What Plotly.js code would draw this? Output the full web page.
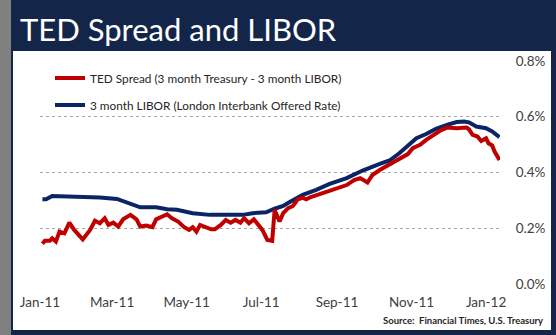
<!DOCTYPE html>
<html>
<head>
<meta charset="utf-8">
<script src="https://cdn.plot.ly/plotly-3.0.1.min.js"></script>
<style>
  html, body { margin: 0; padding: 0; }
  body { width: 556px; height: 335px; background: #13264a; position: relative; overflow: hidden; }
  #strip { position: absolute; left: 0; top: 0; width: 11px; height: 335px; background: #808080; }
  #panel { position: absolute; left: 13px; top: 51px; width: 538px; height: 279px; background: #ffffff; }
  #chart { position: absolute; left: 0; top: 0; width: 556px; height: 335px; }
</style>
</head>
<body>
<div id="strip"></div>
<div id="panel"></div>
<div id="chart"></div>
<script>
// ---- Data ----
const liborDates = ['2011-01-03','2011-01-06','2011-01-11','2011-02-02','2011-02-19','2011-03-05','2011-03-13','2011-03-24','2011-04-06','2011-04-15','2011-04-23','2011-05-06','2011-05-20','2011-06-03','2011-06-16','2011-06-24','2011-07-05','2011-07-12','2011-07-19','2011-07-24','2011-07-31','2011-08-04','2011-08-15','2011-08-26','2011-09-09','2011-09-22','2011-10-06','2011-10-14','2011-10-22','2011-10-28','2011-11-05','2011-11-13','2011-11-21','2011-11-30','2011-12-08','2011-12-14','2011-12-18','2011-12-24','2012-01-01','2012-01-06','2012-01-12'];
const liborValues = [0.304,0.304,0.316,0.313,0.310,0.305,0.293,0.275,0.275,0.268,0.266,0.254,0.248,0.247,0.248,0.254,0.257,0.270,0.280,0.293,0.310,0.320,0.338,0.359,0.380,0.407,0.431,0.443,0.469,0.493,0.523,0.538,0.557,0.571,0.581,0.583,0.580,0.565,0.559,0.547,0.527];

const tedDates = ['2011-01-03','2011-01-05','2011-01-09','2011-01-11','2011-01-14','2011-01-17','2011-01-21','2011-01-25','2011-01-29','2011-02-05','2011-02-11','2011-02-15','2011-02-19','2011-02-23','2011-02-26','2011-03-02','2011-03-06','2011-03-10','2011-03-16','2011-03-21','2011-03-24','2011-03-29','2011-04-03','2011-04-06','2011-04-11','2011-04-15','2011-04-19','2011-04-24','2011-04-29','2011-05-03','2011-05-06','2011-05-09','2011-05-12','2011-05-17','2011-05-21','2011-05-24','2011-05-29','2011-06-02','2011-06-06','2011-06-10','2011-06-14','2011-06-17','2011-06-21','2011-06-25','2011-06-29','2011-07-02','2011-07-06','2011-07-10','2011-07-12','2011-07-16','2011-07-19','2011-07-23','2011-07-27','2011-07-31','2011-08-04','2011-08-07','2011-08-10','2011-08-21','2011-09-02','2011-09-09','2011-09-15','2011-09-20','2011-09-26','2011-09-30','2011-10-06','2011-10-14','2011-10-22','2011-10-29','2011-11-02','2011-11-08','2011-11-13','2011-11-19','2011-11-24','2011-11-30','2011-12-08','2011-12-16','2011-12-18','2011-12-21','2011-12-25','2011-12-28','2012-01-01','2012-01-03','2012-01-06','2012-01-08','2012-01-12'];
const tedValues = [0.144,0.155,0.155,0.164,0.152,0.188,0.182,0.220,0.194,0.160,0.194,0.227,0.218,0.236,0.212,0.220,0.206,0.232,0.248,0.232,0.206,0.210,0.204,0.232,0.242,0.250,0.236,0.224,0.204,0.194,0.204,0.188,0.212,0.204,0.196,0.196,0.212,0.230,0.220,0.230,0.220,0.236,0.218,0.232,0.212,0.194,0.158,0.155,0.266,0.224,0.254,0.272,0.280,0.304,0.309,0.304,0.311,0.326,0.344,0.355,0.373,0.380,0.364,0.391,0.409,0.430,0.451,0.466,0.487,0.499,0.517,0.535,0.549,0.561,0.559,0.561,0.555,0.535,0.529,0.513,0.523,0.505,0.497,0.475,0.445];

const xTickVals = ['2011-01-01','2011-03-01','2011-05-01','2011-07-01','2011-09-01','2011-11-01','2012-01-01'];
const xTickText = ['Jan-11','Mar-11','May-11','Jul-11','Sep-11','Nov-11','Jan-12'];
const yTickVals = [0, 0.2, 0.4, 0.6, 0.8];
const yTickText = ['0.0%','0.2%','0.4%','0.6%','0.8%'];

const tedName = 'TED Spread (3 month Treasury - 3 month LIBOR)';
const liborName = '3 month LIBOR (London Interbank Offered Rate)';

const FONT = 'Lato, "Open Sans", sans-serif';

const traces = [
  { x: liborDates, y: liborValues, type: 'scatter', mode: 'lines', name: liborName,
    line: { color: '#0b2465', width: 4 }, legend: 'legend2' },
  { x: tedDates, y: tedValues, type: 'scatter', mode: 'lines', name: tedName,
    line: { color: '#c00000', width: 4 }, legend: 'legend' }
];

const legendCommon = {
  bgcolor: 'rgba(0,0,0,0)', borderwidth: 0,
  font: { family: FONT, size: 11.8, color: '#262626' },
  xref: 'paper', yref: 'paper', xanchor: 'left', yanchor: 'middle',
  itemwidth: 30
};

const layout = {
  width: 556, height: 335,
  margin: { l: 40, r: 56, t: 61, b: 51, autoexpand: false },
  paper_bgcolor: 'rgba(0,0,0,0)',
  plot_bgcolor: 'rgba(0,0,0,0)',
  showlegend: true,
  title: {
    text: 'TED Spread and LIBOR',
    font: { family: FONT, size: 31, color: '#ffffff' },
    xref: 'container', yref: 'container',
    x: 20 / 556, xanchor: 'left',
    y: 1 - 30 / 335, yanchor: 'middle'
  },
  xaxis: {
    type: 'date',
    range: ['2011-01-01', '2012-01-12 10:00'],
    tickmode: 'array', tickvals: xTickVals, ticktext: xTickText, tickangle: 0,
    showgrid: false, zeroline: false, showline: false,
    ticks: 'outside', ticklen: 6, tickcolor: 'rgba(0,0,0,0)',
    tickfont: { family: FONT, size: 13.5, color: '#404040' }
  },
  yaxis: {
    range: [0, 0.8], side: 'right',
    tickmode: 'array', tickvals: yTickVals, ticktext: yTickText,
    showgrid: true, gridcolor: '#a6a6a6', gridwidth: 1, griddash: 'dot',
    zeroline: false, showline: false,
    ticks: 'outside', ticklen: 12, tickcolor: 'rgba(0,0,0,0)',
    tickfont: { family: FONT, size: 13.5, color: '#404040' }
  },
  legend: Object.assign({}, legendCommon, { x: (50 - 40) / 460, y: (284 - 78) / 223 }),
  legend2: Object.assign({}, legendCommon, { x: (50 - 40) / 460, y: (284 - 105) / 223 }),
  annotations: [{
    text: '<b>Source:  Financial Times, U.S. Treasury</b>',
    xref: 'paper', yref: 'paper', x: (545 - 40) / 460, y: (284 - 320) / 223,
    xanchor: 'right', yanchor: 'middle', showarrow: false,
    font: { family: FONT, size: 9.5, color: '#262626' }
  }]
};

Plotly.newPlot('chart', traces, layout, { displayModeBar: false, staticPlot: true });
</script>
</body>
</html>
